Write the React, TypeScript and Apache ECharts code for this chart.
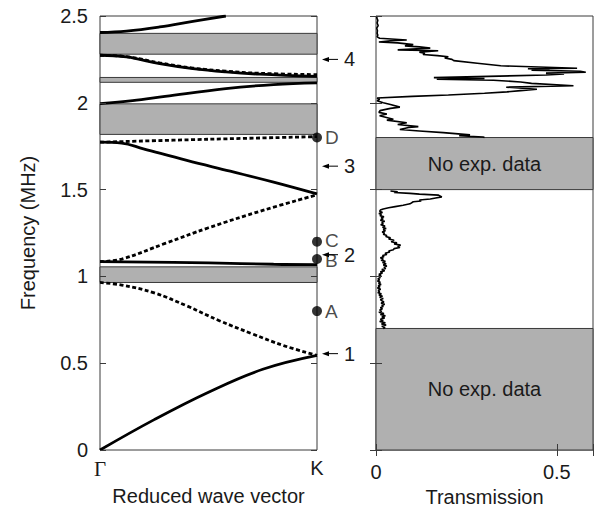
import React, { useEffect, useRef } from "react";
import * as echarts from "echarts";

// ---- data ----
const freqTicks = [0, 0.5, 1, 1.5, 2, 2.5];
const kTickLabels = ["Γ", "K"];
const transTickLabels = ["0", "0.5"];

// band gaps (gray) in the dispersion panel [fLow, fHigh]
const gapBands = [
  [0.965, 1.055],
  [1.818, 1.994],
  [2.118, 2.146],
  [2.28, 2.4],
];
// regions without experimental data in the transmission panel
const noDataBands = [
  [0, 0.7],
  [1.5, 1.8],
];

// dispersion branches: [k, f]
const branch1 = [[0, 0], [0.25, 0.175], [0.5, 0.333], [0.75, 0.465], [1, 0.545]];
const branch2 = [[0, 0.965], [0.1, 0.95], [0.25, 0.905], [0.4, 0.83], [0.55, 0.745], [0.7, 0.67], [0.85, 0.6], [1, 0.545]];
const branch3 = [[0, 1.085], [0.5, 1.078], [0.8, 1.07], [1, 1.068]];
const branch4 = [[0, 1.085], [0.1, 1.1], [0.3, 1.19], [0.5, 1.28], [0.75, 1.38], [1, 1.47]];
const branch5 = [[0, 1.773], [0.1, 1.768], [0.2, 1.735], [0.4, 1.668], [0.6, 1.606], [0.8, 1.543], [1, 1.475]];
const branch6 = [[0, 1.773], [0.5, 1.79], [1, 1.805]];
const branch7 = [[0, 1.995], [0.15, 2.012], [0.3, 2.037], [0.58, 2.082], [0.8, 2.105], [1, 2.115]];
const branch8 = [[0, 2.274], [0.122, 2.264], [0.275, 2.226], [0.428, 2.197], [0.58, 2.178], [0.735, 2.165], [1, 2.152]];
const branch8b = [[0, 2.274], [0.122, 2.266], [0.275, 2.23], [0.428, 2.2], [0.58, 2.182], [0.735, 2.17], [1, 2.162]];
const branch9 = [[0, 2.405], [0.122, 2.413], [0.275, 2.437], [0.428, 2.469], [0.58, 2.5]];

const solidBranches = [branch1, branch3, branch5, branch7, branch8, branch9];
const dashedBranches = [branch2, branch4, branch6, branch8b];

// labelled points at K
const pointNames = ["A", "B", "C", "D"];
const pointFreqs = [0.8, 1.1, 1.2, 1.8];

// numbered arrows right of the K edge
const arrowLabels = ["1", "2", "3", "4"];
const arrowFreqs = [0.555, 1.125, 1.635, 2.25];

// transmission spectrum: [T, f]
const transUpper = [
  [0.004, 2.5], [0.002, 2.49], [0.005, 2.475], [0.003, 2.46], [0.006, 2.445], [0.002, 2.43], [0.004, 2.415],
  [0.003, 2.4], [0.005, 2.39], [0.003, 2.38], [0.01, 2.372], [0.085, 2.362], [0.04, 2.357], [0.008, 2.35],
  [0.06, 2.345], [0.103, 2.335], [0.08, 2.328], [0.12, 2.322], [0.15, 2.315], [0.06, 2.305], [0.172, 2.3],
  [0.12, 2.292], [0.135, 2.285], [0.13, 2.278], [0.17, 2.272], [0.2, 2.265], [0.19, 2.258], [0.21, 2.25],
  [0.215, 2.243], [0.28, 2.228], [0.345, 2.213], [0.45, 2.206], [0.556, 2.199], [0.42, 2.196], [0.48, 2.192],
  [0.43, 2.188], [0.565, 2.182], [0.58, 2.176], [0.47, 2.171], [0.52, 2.166], [0.47, 2.16], [0.16, 2.145],
  [0.3, 2.14], [0.168, 2.136], [0.325, 2.13], [0.4, 2.12], [0.43, 2.112], [0.546, 2.098], [0.36, 2.09],
  [0.445, 2.078], [0.4, 2.07], [0.362, 2.063], [0.3, 2.055], [0.2, 2.045], [0.1, 2.037], [0.003, 2.028],
  [0.01, 2.02], [0.003, 2.012], [0.02, 2.0], [0.04, 1.99], [0.066, 1.975], [0.04, 1.968], [0.011, 1.955],
  [0.008, 1.945], [0.03, 1.935], [0.01, 1.925], [0.048, 1.905], [0.03, 1.9], [0.085, 1.885], [0.06, 1.875],
  [0.117, 1.863], [0.09, 1.858], [0.066, 1.846], [0.12, 1.838], [0.186, 1.828], [0.26, 1.815], [0.23, 1.81],
  [0.296, 1.803], [0.3, 1.8],
];
const transLower = [
  [0.04, 1.492], [0.06, 1.487], [0.05, 1.483], [0.094, 1.478], [0.12, 1.474], [0.173, 1.468], [0.182, 1.458],
  [0.165, 1.452], [0.15, 1.446], [0.12, 1.44], [0.125, 1.434], [0.103, 1.43], [0.094, 1.418], [0.075, 1.41],
  [0.053, 1.402], [0.035, 1.395], [0.02, 1.388], [0.012, 1.382], [0.01, 1.375], [0.018, 1.368], [0.008, 1.362],
  [0.015, 1.356], [0.011, 1.35], [0.022, 1.343], [0.014, 1.337], [0.02, 1.33], [0.012, 1.324], [0.024, 1.317],
  [0.016, 1.31], [0.02, 1.303], [0.013, 1.297], [0.025, 1.29], [0.018, 1.283], [0.028, 1.276], [0.02, 1.27],
  [0.026, 1.263], [0.017, 1.256], [0.024, 1.25], [0.02, 1.243], [0.03, 1.236], [0.027, 1.23], [0.04, 1.222],
  [0.035, 1.215], [0.05, 1.208], [0.042, 1.2], [0.058, 1.193], [0.05, 1.187], [0.068, 1.18], [0.06, 1.173],
  [0.066, 1.166], [0.05, 1.16], [0.048, 1.153], [0.035, 1.146], [0.038, 1.14], [0.025, 1.133], [0.03, 1.126],
  [0.018, 1.12], [0.022, 1.113], [0.012, 1.107], [0.02, 1.1], [0.014, 1.093], [0.026, 1.087], [0.018, 1.08],
  [0.028, 1.073], [0.02, 1.066], [0.03, 1.06], [0.022, 1.053], [0.027, 1.046], [0.016, 1.04], [0.024, 1.033],
  [0.012, 1.026], [0.018, 1.02], [0.008, 1.013], [0.014, 1.006], [0.006, 1.0], [0.012, 0.993], [0.005, 0.986],
  [0.01, 0.98], [0.004, 0.973], [0.012, 0.966], [0.007, 0.96], [0.014, 0.953], [0.006, 0.946], [0.011, 0.94],
  [0.004, 0.933], [0.013, 0.926], [0.006, 0.92], [0.01, 0.913], [0.005, 0.906], [0.015, 0.9], [0.008, 0.893],
  [0.018, 0.886], [0.01, 0.88], [0.02, 0.873], [0.012, 0.866], [0.016, 0.86], [0.022, 0.853], [0.014, 0.846],
  [0.024, 0.84], [0.016, 0.833], [0.02, 0.826], [0.012, 0.82], [0.018, 0.813], [0.01, 0.806], [0.016, 0.8],
  [0.008, 0.793], [0.022, 0.786], [0.012, 0.78], [0.026, 0.773], [0.016, 0.766], [0.024, 0.76], [0.012, 0.753],
  [0.02, 0.746], [0.01, 0.74], [0.026, 0.733], [0.015, 0.726], [0.028, 0.72], [0.016, 0.713], [0.025, 0.706],
  [0.02, 0.7],
];

const FONT = "Liberation Sans";
const TXT = "#1a1a1a";
const GRAY = "#b0b0b0";
const EDGE = "#3a3a3a";

export default function App() {
  const ref = useRef<HTMLDivElement>(null);

  useEffect(() => {
    if (!ref.current) return;
    const chart = echarts.init(ref.current, null, { renderer: "svg" });

    const tickCommon = { show: true, inside: true, length: 6, lineStyle: { color: EDGE, width: 1 } };
    const hiddenLabel = { show: false };

    const series: any[] = [];
    // gap bands (left panel)
    series.push({
      type: "line",
      xAxisIndex: 0,
      yAxisIndex: 0,
      data: [],
      silent: true,
      z: 1,
      markArea: {
        silent: true,
        itemStyle: { color: GRAY, borderColor: EDGE, borderWidth: 1 },
        data: gapBands.map((b) => [{ xAxis: 0, yAxis: b[0] }, { xAxis: 1, yAxis: b[1] }]),
      },
    });
    // no-data bands (right panel)
    series.push({
      type: "line",
      xAxisIndex: 1,
      yAxisIndex: 2,
      data: [],
      silent: true,
      z: 1,
      markArea: {
        silent: true,
        itemStyle: { color: GRAY, borderColor: EDGE, borderWidth: 1 },
        label: {
          show: true,
          position: "inside",
          formatter: "No exp. data",
          fontFamily: FONT,
          fontSize: 20,
          color: TXT,
        },
        data: noDataBands.map((b) => [{ xAxis: 0, yAxis: b[0] }, { xAxis: 0.6, yAxis: b[1] }]),
      },
    });
    solidBranches.forEach((d) =>
      series.push({
        type: "line",
        xAxisIndex: 0,
        yAxisIndex: 0,
        data: d,
        smooth: 0.4,
        symbol: "none",
        z: 3,
        lineStyle: { color: "#000", width: 2.8, type: "solid" },
      })
    );
    dashedBranches.forEach((d) =>
      series.push({
        type: "line",
        xAxisIndex: 0,
        yAxisIndex: 0,
        data: d,
        smooth: 0.4,
        symbol: "none",
        z: 3,
        lineStyle: { color: "#000", width: 2.8, type: [4, 2.5] },
      })
    );
    [transUpper, transLower].forEach((d) =>
      series.push({
        type: "line",
        xAxisIndex: 1,
        yAxisIndex: 2,
        data: d,
        symbol: "none",
        z: 3,
        lineStyle: { color: "#000", width: 1.6 },
      })
    );
    const labelOffsets: Record<string, number[]> = { A: [0, 0], B: [0, 1.5], C: [0, -1.5], D: [0, 0] };
    series.push({
      type: "scatter",
      xAxisIndex: 0,
      yAxisIndex: 0,
      clip: false,
      z: 4,
      symbol: "circle",
      symbolSize: 10,
      itemStyle: { color: "#000" },
      label: {
        show: true,
        position: "right",
        distance: 3,
        formatter: (p: any) => p.name,
        fontFamily: FONT,
        fontSize: 19,
        lineHeight: 15,
        color: TXT,
      },
      data: pointNames.map((n, i) => ({
        name: n,
        value: [1, pointFreqs[i]],
        label: { offset: labelOffsets[n] },
      })),
    });

    chart.setOption({
      animation: false,
      backgroundColor: "#fff",
      textStyle: { fontFamily: FONT },
      grid: [
        { left: 100, top: 16, width: 217, height: 434, show: true, borderColor: EDGE, borderWidth: 1, backgroundColor: "transparent" },
        { left: 376, top: 16, width: 217, height: 434, show: true, borderColor: EDGE, borderWidth: 1, backgroundColor: "transparent" },
      ],
      xAxis: [
        {
          type: "value",
          gridIndex: 0,
          min: 0,
          max: 1,
          interval: 1,
          z: 5,
          axisLine: { show: false },
          splitLine: { show: false },
          axisTick: { show: false },
          axisLabel: {
            margin: 8,
            fontSize: 20,
            color: TXT,
            fontFamily: FONT,
            formatter: (v: number) => (v === 0 ? "{g|" + kTickLabels[0] + "}" : v === 1 ? kTickLabels[1] : ""),
            rich: { g: { fontFamily: "Liberation Serif", fontSize: 21, color: TXT } },
          },
          name: "Reduced wave vector",
          nameLocation: "middle",
          nameGap: 36,
          nameTextStyle: { fontSize: 20, color: TXT, fontFamily: FONT },
        },
        {
          type: "value",
          gridIndex: 1,
          min: 0,
          max: 0.6,
          interval: 0.5,
          z: 5,
          axisLine: { show: false },
          splitLine: { show: false },
          axisTick: tickCommon,
          axisLabel: {
            margin: 12,
            fontSize: 20,
            color: TXT,
            fontFamily: FONT,
            formatter: (v: number) => (v === 0 ? transTickLabels[0] : v === 0.5 ? transTickLabels[1] : ""),
          },
          name: "Transmission",
          nameLocation: "middle",
          nameGap: 36,
          nameTextStyle: { fontSize: 20, color: TXT, fontFamily: FONT },
        },
        {
          type: "value",
          gridIndex: 1,
          position: "top",
          min: 0,
          max: 0.6,
          interval: 0.5,
          z: 5,
          axisLine: { show: false },
          splitLine: { show: false },
          axisTick: tickCommon,
          axisLabel: hiddenLabel,
        },
      ],
      yAxis: [
        {
          type: "value",
          gridIndex: 0,
          min: freqTicks[0],
          max: freqTicks[freqTicks.length - 1],
          interval: 0.5,
          z: 5,
          axisLine: { show: false },
          splitLine: { show: false },
          axisTick: tickCommon,
          axisLabel: {
            margin: 12,
            fontSize: 20,
            color: TXT,
            fontFamily: FONT,
            formatter: (v: number) => String(v),
          },
          name: "Frequency (MHz)",
          nameLocation: "middle",
          nameGap: 62,
          nameTextStyle: { fontSize: 20, color: TXT, fontFamily: FONT },
        },
        {
          type: "value",
          gridIndex: 0,
          position: "right",
          min: 0,
          max: 2.5,
          interval: 0.5,
          z: 5,
          axisLine: { show: false },
          splitLine: { show: false },
          axisTick: tickCommon,
          axisLabel: hiddenLabel,
        },
        {
          type: "value",
          gridIndex: 1,
          min: 0,
          max: 2.5,
          interval: 0.5,
          z: 5,
          axisLine: { show: false },
          splitLine: { show: false },
          axisTick: tickCommon,
          axisLabel: hiddenLabel,
        },
        {
          type: "value",
          gridIndex: 1,
          position: "right",
          min: 0,
          max: 2.5,
          interval: 0.5,
          z: 5,
          axisLine: { show: false },
          splitLine: { show: false },
          axisTick: tickCommon,
          axisLabel: hiddenLabel,
        },
      ],
      series,
    });

    // arrows with numbers, positioned through the axes
    const graphic: any[] = [];
    arrowLabels.forEach((lab, i) => {
      const p = chart.convertToPixel({ xAxisIndex: 0, yAxisIndex: 0 }, [1, arrowFreqs[i]]) as number[];
      const x0 = p[0] + 5;
      const y = p[1];
      graphic.push({
        type: "line",
        z: 10,
        shape: { x1: x0 + 3, y1: y, x2: x0 + 16, y2: y },
        style: { stroke: "#000", lineWidth: 1 },
      });
      graphic.push({
        type: "polygon",
        z: 10,
        shape: { points: [[x0, y], [x0 + 7, y - 2.5], [x0 + 7, y + 2.5]] },
        style: { fill: "#000" },
      });
      graphic.push({
        type: "text",
        z: 10,
        x: x0 + 22,
        y: y,
        style: { text: lab, fontFamily: FONT, fontSize: 20, lineHeight: 15, fill: TXT, verticalAlign: "middle", align: "left" },
      });
    });
    chart.setOption({ graphic });

    return () => chart.dispose();
  }, []);

  return <div ref={ref} style={{ position: "fixed", left: 0, top: 0, width: 596, height: 513 }} />;
}
